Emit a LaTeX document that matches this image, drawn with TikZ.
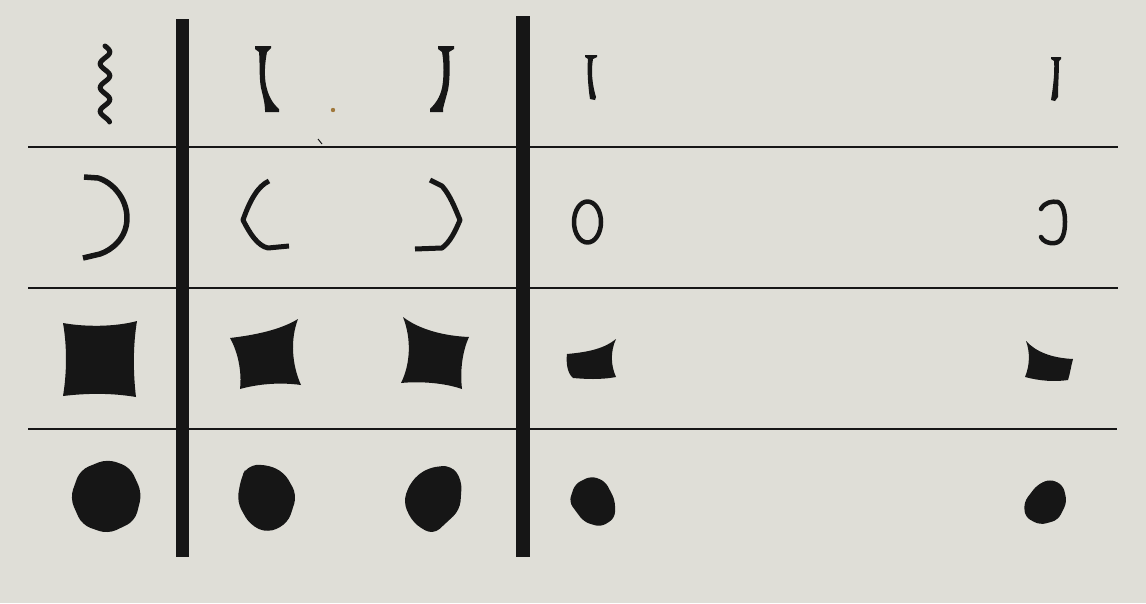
\documentclass[tikz,border=0pt]{standalone}
\definecolor{paper}{RGB}{223,222,215}
\definecolor{ink}{RGB}{22,22,22}
\definecolor{speck}{RGB}{160,120,60}
\begin{document}
\begin{tikzpicture}[x=1pt,y=-1pt,
  blob/.style={fill=ink},
  rblob/.style={fill=ink,rounded corners=9pt},
  stroke/.style={draw=ink,line width=#1,line cap=round,line join=round},
  stroke/.default=5pt,
  rule/.style={draw=ink,line width=2.6pt},
  bar/.style={fill=ink}]
\useasboundingbox (0,0) rectangle (1146,603);
\fill[paper] (0,0) rectangle (1146,603);

% grid
\draw[rule] (28,147) -- (1118,147);
\draw[rule] (28,288) -- (1118,288);
\draw[rule] (28,429) -- (1117,429);
\fill[bar] (176,19) rectangle (189,557);
\fill[bar] (516,16) rectangle (530,557);

% ---------- row 1 ----------
\draw[stroke=5pt] plot[domain=0:1,samples=90,smooth] ({105+4.8*sin(360*3.2*\x)},{46+76*\x});
\fill[blob] (255,46) -- (271,46) -- (271,48) -- (267,52) .. controls (265,62) and (264,75) .. (266,85)
  .. controls (268,95) and (272,103) .. (279,109) -- (279,112) -- (265,112) -- (265,110)
  .. controls (265,104) and (263,96) .. (261,88) .. controls (259,78) and (260,62) .. (259,52) -- (255,49) -- cycle;
\fill[blob] (438,46) -- (454,46) -- (454,49) -- (449,52) .. controls (450,65) and (450,80) .. (448,90)
  .. controls (446,98) and (444,104) .. (443,109) -- (443,112) -- (430,112) -- (430,109)
  .. controls (436,103) and (440,97) .. (442,88) .. controls (444,78) and (444,62) .. (442,52) -- (438,49) -- cycle;
\fill[blob] (585,55) -- (597,55) -- (597,57) -- (593,59) .. controls (591,70) and (592,84) .. (596,97)
  -- (595,100) -- (590,99) .. controls (588,86) and (587,70) .. (588,59) -- (585,57) -- cycle;
\fill[blob] (1051,57) -- (1061,57) -- (1061,59) -- (1059,61) .. controls (1059,72) and (1058,86) .. (1058,97)
  -- (1055,101) -- (1051,100) .. controls (1053,88) and (1055,72) .. (1054,61) -- (1051,59) -- cycle;

% ---------- row 2 ----------
\draw[stroke=5.5pt,line cap=butt] (84,177) -- (98,178) .. controls (112,182) and (127,198) .. (127,218)
  .. controls (127,238) and (112,250) .. (100,254) -- (83,258);
\draw[stroke=5pt,line cap=butt] (269,181) .. controls (258,186) and (250,200) .. (243,220)
  .. controls (250,234) and (258,246) .. (268,248) -- (289,246);
\draw[stroke=5pt,line cap=butt] (430,180) -- (442,186) .. controls (450,195) and (455,208) .. (460,220)
  .. controls (455,232) and (450,242) .. (442,248) -- (415,249);
\draw[stroke=4.5pt] (587.5,222) ellipse [x radius=13.5,y radius=20.5];
\draw[stroke=4.5pt] (1041,209) .. controls (1045,202) and (1052,201) .. (1058,202)
  .. controls (1064,205) and (1065,215) .. (1065,222) .. controls (1065,232) and (1063,242) .. (1055,243)
  .. controls (1048,244) and (1043,241) .. (1041,237);

% ---------- row 3 ----------
\fill[blob] (63,323) .. controls (85,327) and (115,327) .. (137,321)
  .. controls (133,345) and (133,372) .. (136,397)
  .. controls (112,393) and (88,393) .. (63,396)
  .. controls (67,372) and (67,346) .. (63,323) -- cycle;
\fill[blob] (230,338) .. controls (255,335) and (280,330) .. (298,319)
  .. controls (290,340) and (292,365) .. (301,385)
  .. controls (280,382) and (258,384) .. (240,389)
  .. controls (242,372) and (238,352) .. (230,338) -- cycle;
\fill[blob] (403,317) .. controls (420,330) and (445,336) .. (469,337)
  .. controls (462,352) and (460,372) .. (462,389)
  .. controls (445,383) and (420,381) .. (401,383)
  .. controls (410,365) and (412,340) .. (403,317) -- cycle;
\fill[blob] (567,354) .. controls (590,352) and (605,348) .. (616,339)
  .. controls (610,352) and (611,366) .. (616,377)
  .. controls (600,380) and (585,379) .. (573,378)
  .. controls (567,373) and (566,362) .. (567,354) -- cycle;
\fill[blob] (1026,341) .. controls (1036,352) and (1052,358) .. (1073,359)
  .. controls (1071,366) and (1070,374) .. (1068,380)
  .. controls (1055,382) and (1040,381) .. (1025,377)
  .. controls (1030,365) and (1030,352) .. (1026,341) -- cycle;

% ---------- row 4 ----------
\fill[rblob] (107,459) -- (130,467) -- (142,493) -- (135,521) -- (108,534) -- (82,525) -- (70,498) -- (80,470) -- cycle;
\fill[rblob] (247,466) -- (265,464) -- (284,472) -- (297,495) -- (288,523) -- (268,533) -- (250,525) -- (237,502) -- (241,478) -- cycle;
\fill[rblob] (427,468) -- (451,465) -- (462,480) -- (460,510) -- (433,535) -- (413,523) -- (403,502) -- (411,481) -- cycle;
\fill[blob,rounded corners=6pt] (591,476) -- (605,481) -- (615,500) -- (615,518) -- (601,527) -- (584,522) -- (569,502) -- (575,484) -- cycle;
\fill[blob,rounded corners=6pt] (1050,479) -- (1063,485) -- (1067,502) -- (1058,520) -- (1040,525) -- (1025,517) -- (1024,502) -- (1037,485) -- cycle;

% specks
\fill[speck] (333,110) circle (2.2);
\draw[ink,line width=1pt] (318,139) -- (322,144);
\end{tikzpicture}
\end{document}
